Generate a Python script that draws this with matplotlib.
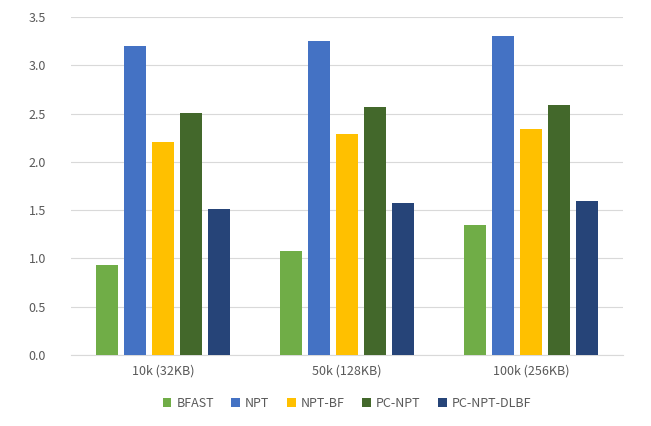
import matplotlib
matplotlib.use("Agg")
import matplotlib.pyplot as plt
import numpy as np

categories = ["10k (32KB)", "50k (128KB)", "100k (256KB)"]
series_names = ["BFAST", "NPT", "NPT-BF", "PC-NPT", "PC-NPT-DLBF"]
bfast = [0.93, 1.08, 1.35]
npt = [3.20, 3.25, 3.30]
npt_bf = [2.21, 2.29, 2.34]
pc_npt = [2.51, 2.57, 2.59]
pc_npt_dlbf = [1.51, 1.57, 1.59]
yticks = [0.0, 0.5, 1.0, 1.5, 2.0, 2.5, 3.0, 3.5]
colors = ["#70AD47", "#4472C4", "#FFC000", "#43682B", "#264478"]

plt.rcParams['font.family'] = ['Noto Sans CJK KR', 'DejaVu Sans']

fig = plt.figure(figsize=(6.51, 4.26), dpi=100)
ax = fig.add_axes([0.109, 0.1667, 0.848, 0.7933])

data = [bfast, npt, npt_bf, pc_npt, pc_npt_dlbf]
x = np.arange(len(categories))
step = 0.152
width = 0.118
for i, (name, vals) in enumerate(zip(series_names, data)):
    ax.bar(x + (i - 2) * step, vals, width, color=colors[i], label=name, zorder=3)

ax.set_xlim(-0.5, 2.5)
ax.set_ylim(0, 3.5)
ax.set_yticks(yticks)
ax.set_yticklabels([f"{v:.1f}" for v in yticks])
ax.set_xticks(x)
ax.set_xticklabels(categories)
ax.grid(axis='y', color='#D9D9D9', linewidth=0.8, zorder=0)
for s in ['top', 'right', 'left']:
    ax.spines[s].set_visible(False)
ax.spines['bottom'].set_color('#D9D9D9')
ax.tick_params(axis='both', length=0, colors='#595959', labelsize=9)
ax.tick_params(axis='y', pad=18)
ax.tick_params(axis='x', pad=7)

leg = ax.legend(loc='upper center', bbox_to_anchor=(0.5, -0.09), ncol=5, frameon=False,
                fontsize=9, handlelength=0.7, handleheight=0.7, handletextpad=0.4,
                columnspacing=1.4)
for t in leg.get_texts():
    t.set_color('#595959')

fig.savefig("out.png", dpi=100)
